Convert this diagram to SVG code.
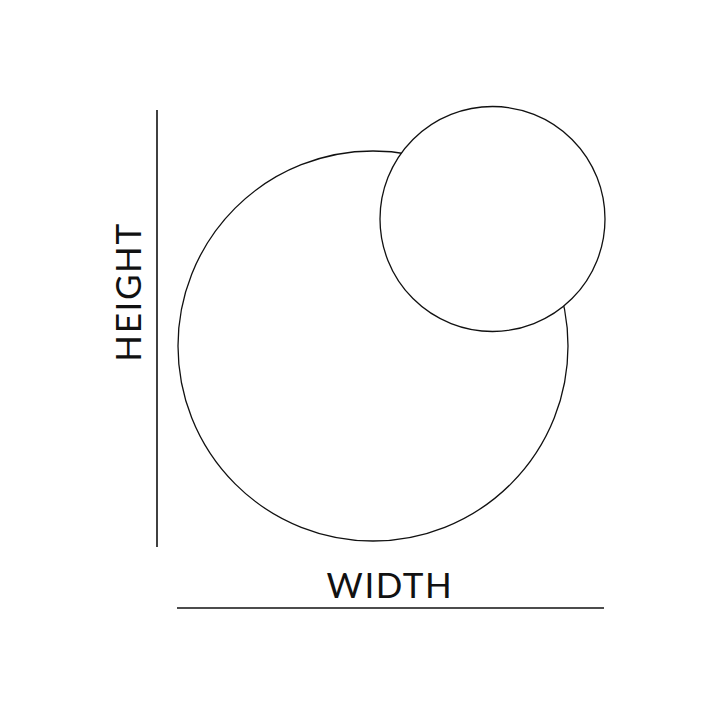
<svg xmlns="http://www.w3.org/2000/svg" width="720" height="720" viewBox="0 0 720 720">
<style>
.ln{stroke:#111;stroke-width:1.6;fill:none}
.c{stroke:#111;stroke-width:1.3;fill:#fff}
.t{font-family:Lato,"Open Sans",sans-serif;font-size:35px;fill:#111;letter-spacing:1.6px}
</style>
<rect width="720" height="720" fill="#fff"/>
<g id="connectors">
<line class="ln" x1="157" y1="110" x2="157" y2="547"/>
<line class="ln" x1="177" y1="608" x2="604" y2="608"/>
</g>
<g id="big-circle"><circle class="c" cx="373" cy="346" r="195"/></g>
<g id="small-circle"><circle class="c" cx="492.500" cy="219" r="112.500"/></g>
<g id="height-label"><text class="t" transform="translate(141,292) rotate(-90)" text-anchor="middle">HEIGHT</text></g>
<g id="width-label"><text class="t" x="390" y="598" text-anchor="middle">WIDTH</text></g>
</svg>
